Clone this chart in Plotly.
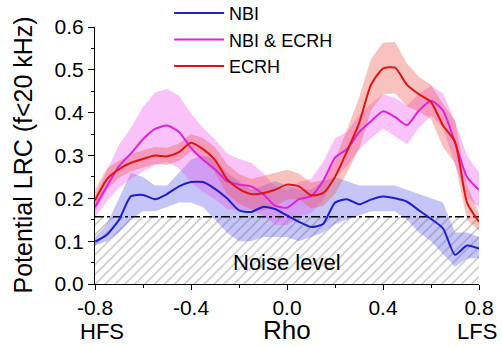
import plotly.graph_objects as go

rho = [-0.80, -0.75, -0.70, -0.65, -0.60, -0.55, -0.50, -0.45, -0.40, -0.35, -0.30,
       -0.25, -0.20, -0.15, -0.10, -0.05, 0.00, 0.05, 0.10, 0.15, 0.20, 0.25,
       0.30, 0.35, 0.40, 0.45, 0.50, 0.55, 0.60, 0.65, 0.70, 0.75, 0.80]

nbi = [0.099, 0.115, 0.150, 0.205, 0.208, 0.198, 0.210, 0.228, 0.238, 0.238, 0.222,
       0.200, 0.172, 0.168, 0.180, 0.175, 0.160, 0.145, 0.133, 0.140, 0.190, 0.198,
       0.186, 0.197, 0.204, 0.200, 0.192, 0.172, 0.152, 0.130, 0.068, 0.090, 0.083]
nbi_lo = [0.09, 0.10, 0.12, 0.15, 0.17, 0.17, 0.18, 0.19, 0.19, 0.18, 0.15,
          0.12, 0.10, 0.10, 0.11, 0.11, 0.11, 0.10, 0.11, 0.12, 0.14, 0.15,
          0.16, 0.17, 0.17, 0.17, 0.15, 0.12, 0.10, 0.07, 0.04, 0.06, 0.06]
nbi_hi = [0.11, 0.14, 0.20, 0.26, 0.25, 0.23, 0.23, 0.26, 0.29, 0.30, 0.29,
          0.26, 0.24, 0.22, 0.23, 0.24, 0.23, 0.22, 0.22, 0.24, 0.25, 0.24,
          0.23, 0.23, 0.23, 0.23, 0.22, 0.21, 0.20, 0.19, 0.12, 0.12, 0.11]

both = [0.180, 0.228, 0.275, 0.305, 0.338, 0.362, 0.370, 0.355, 0.318, 0.290, 0.268,
        0.240, 0.232, 0.228, 0.210, 0.183, 0.178, 0.198, 0.205, 0.240, 0.295, 0.315,
        0.354, 0.380, 0.403, 0.390, 0.371, 0.405, 0.428, 0.405, 0.330, 0.250, 0.220]
both_err = [0.025, 0.035, 0.050, 0.060, 0.075, 0.085, 0.085, 0.085, 0.080, 0.075, 0.070,
            0.065, 0.060, 0.055, 0.050, 0.045, 0.040, 0.040, 0.040, 0.045, 0.045, 0.040,
            0.040, 0.040, 0.040, 0.045, 0.045, 0.040, 0.035, 0.040, 0.050, 0.050, 0.040]

ecrh = [0.195, 0.245, 0.268, 0.283, 0.292, 0.300, 0.298, 0.308, 0.330, 0.315, 0.290,
        0.245, 0.222, 0.210, 0.212, 0.220, 0.232, 0.228, 0.207, 0.212, 0.250, 0.310,
        0.375, 0.465, 0.503, 0.505, 0.465, 0.443, 0.425, 0.370, 0.332, 0.190, 0.145]
ecrh_err = [0.025, 0.025, 0.020, 0.020, 0.020, 0.020, 0.020, 0.020, 0.020, 0.025, 0.030,
            0.035, 0.035, 0.035, 0.040, 0.040, 0.035, 0.030, 0.030, 0.030, 0.040, 0.050,
            0.060, 0.060, 0.060, 0.060, 0.050, 0.040, 0.040, 0.050, 0.050, 0.040, 0.020]

noise_level = 0.157
x_range = [-0.8, 0.8]
y_range = [0, 0.6]
x_ticks = [-0.8, -0.4, 0.0, 0.4, 0.8]
x_ticklabels = ["-0.8", "-0.4", "0.0", "0.4", "0.8"]
y_ticks = [0, 0.1, 0.2, 0.3, 0.4, 0.5, 0.6]
y_ticklabels = ["0.0", "0.1", "0.2", "0.3", "0.4", "0.5", "0.6"]

FONT = "Liberation Sans, Arial, sans-serif"

fig = go.Figure()

# hatched noise region
fig.add_trace(go.Scatter(
    x=x_range, y=[noise_level, noise_level], mode="lines", line=dict(width=0),
    fill="tozeroy", fillcolor="white",
    fillpattern=dict(shape="/", fgcolor="#7a7a7a", bgcolor="white", size=7, solidity=0.18),
    showlegend=False, hoverinfo="skip"))


def band(lo, hi, color):
    fig.add_trace(go.Scatter(
        x=rho + rho[::-1], y=hi + lo[::-1], mode="lines", line=dict(width=0),
        fill="toself", fillcolor=color, showlegend=False, hoverinfo="skip"))


band(nbi_lo, nbi_hi, "rgba(80,80,235,0.33)")
band([m - e for m, e in zip(both, both_err)], [m + e for m, e in zip(both, both_err)],
     "rgba(238,80,238,0.35)")
band([m - e for m, e in zip(ecrh, ecrh_err)], [m + e for m, e in zip(ecrh, ecrh_err)],
     "rgba(238,80,70,0.35)")

# noise threshold
fig.add_trace(go.Scatter(
    x=x_range, y=[noise_level, noise_level], mode="lines",
    line=dict(color="black", width=1.6, dash="dashdot"),
    showlegend=False, hoverinfo="skip"))

fig.add_trace(go.Scatter(x=rho, y=nbi, mode="lines", name="NBI",
                         line=dict(color="#1f1fd0", width=2, shape="spline", smoothing=0.6)))
fig.add_trace(go.Scatter(x=rho, y=both, mode="lines", name="NBI & ECRH",
                         line=dict(color="#dd22dd", width=2, shape="spline", smoothing=0.6)))
fig.add_trace(go.Scatter(x=rho, y=ecrh, mode="lines", name="ECRH",
                         line=dict(color="#e01414", width=2, shape="spline", smoothing=0.6)))

fig.add_annotation(x=0.0, y=0.051, text="Noise level", showarrow=False,
                   font=dict(size=22, color="black", family=FONT))
fig.add_annotation(x=-0.8, y=-0.183, yref="paper", text="HFS", showarrow=False,
                   xanchor="center", yanchor="middle", xshift=7,
                   font=dict(size=22, color="black", family=FONT))
fig.add_annotation(x=0.8, y=-0.183, yref="paper", text="LFS", showarrow=False,
                   xanchor="center", yanchor="middle", xshift=-2,
                   font=dict(size=22, color="black", family=FONT))
fig.add_annotation(x=0.0, y=-0.18, yref="paper", text="Rho", showarrow=False,
                   xanchor="center", yanchor="middle",
                   font=dict(size=26, color="black", family=FONT))
fig.add_annotation(x=0, xref="paper", xshift=-73, xanchor="center",
                   y=0.5, yref="paper", yanchor="middle",
                   text="Potential LRC (f<20 kHz)", textangle=-90, showarrow=False,
                   font=dict(size=25, color="black", family=FONT))

fig.update_layout(
    width=502, height=347,
    margin=dict(l=95, r=23, t=27, b=63, autoexpand=False),
    paper_bgcolor="white", plot_bgcolor="white",
    font=dict(family=FONT, color="black"),
    legend=dict(x=0.193, xref="paper", y=1.125, yref="paper", xanchor="left", yanchor="top",
                bgcolor="rgba(0,0,0,0)", font=dict(size=18, family=FONT),
                tracegroupgap=0, itemwidth=50),
    xaxis=dict(range=x_range, tickvals=x_ticks, ticktext=x_ticklabels,
               showgrid=False, zeroline=False, showline=True, linecolor="black",
               linewidth=1, ticks="outside", ticklen=5, tickcolor="black",
               minor=dict(tickvals=[-0.6, -0.2, 0.2, 0.6], ticks="outside", ticklen=3,
                          tickcolor="black"),
               tickfont=dict(size=21), automargin=False),
    yaxis=dict(range=y_range, tickvals=y_ticks, ticktext=y_ticklabels,
               showgrid=False, zeroline=False, showline=True, linecolor="black",
               linewidth=1, ticks="outside", ticklen=6, tickcolor="black",
               minor=dict(tickvals=[0.05, 0.15, 0.25, 0.35, 0.45, 0.55], ticks="outside",
                          ticklen=3, tickcolor="black"),
               tickfont=dict(size=21), automargin=False),
)

fig.write_html("out.html", config={"displayModeBar": False},
               post_script="document.body.style.margin='0';")
